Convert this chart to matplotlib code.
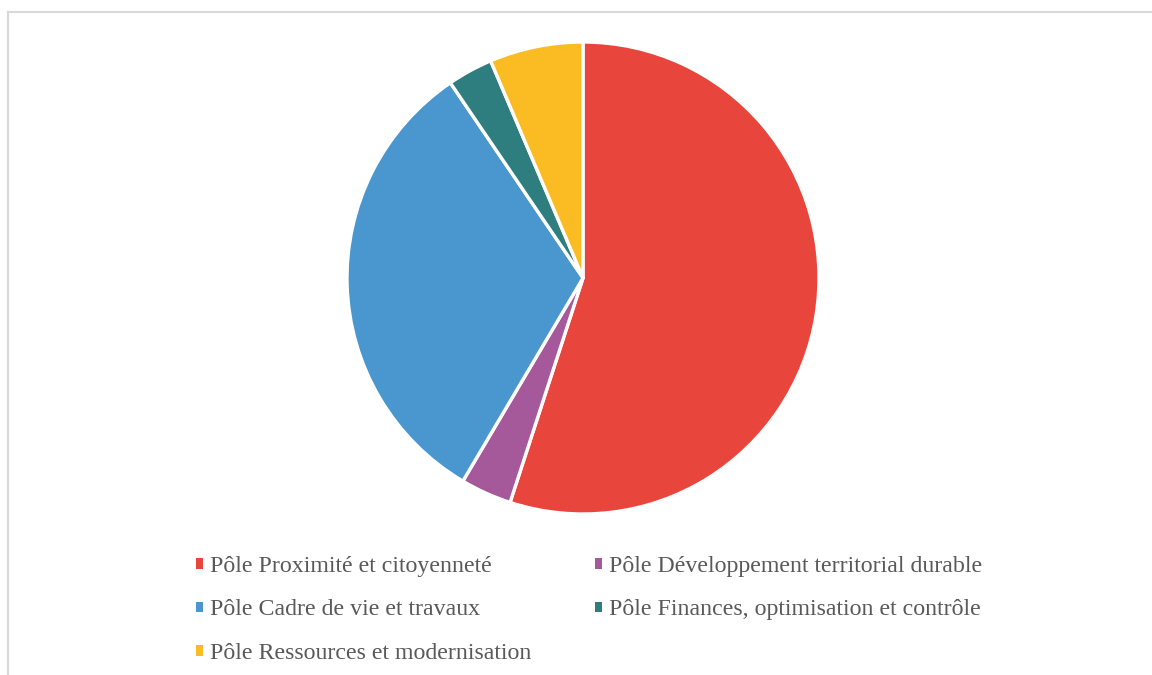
import matplotlib

matplotlib.use("Agg")
import matplotlib.pyplot as plt  # noqa: E402
from matplotlib.lines import Line2D  # noqa: E402
from matplotlib.patches import Patch  # noqa: E402

labels = [
    "Pôle Proximité et citoyenneté",
    "Pôle Développement territorial durable",
    "Pôle Cadre de vie et travaux",
    "Pôle Finances, optimisation et contrôle",
    "Pôle Ressources et modernisation",
]
shares = [55.0, 3.5, 32.0, 3.1, 6.4]
colors = ["#E8453C", "#A5589A", "#4A96CE", "#2E7D7F", "#FBBC23"]

W, H = 1152, 675
fig = plt.figure(figsize=(W / 100, H / 100), dpi=100)
plt.rcParams["font.family"] = ["Liberation Serif", "DejaVu Serif"]

# light grey chart frame (top and left edges visible)
fig.add_artist(Line2D([7.5 / W, 1], [1 - 11.5 / H] * 2, color="#D9D9D9", lw=1.5,
                      transform=fig.transFigure))
fig.add_artist(Line2D([7.5 / W] * 2, [0, 1 - 11.5 / H], color="#D9D9D9", lw=1.5,
                      transform=fig.transFigure))

cx, cy, r = 583, 278, 236
ax = fig.add_axes([(cx - r) / W, (H - cy - r) / H, 2 * r / W, 2 * r / H])
ax.pie(
    shares,
    colors=colors,
    startangle=90,
    counterclock=False,
    radius=1.0,
    wedgeprops=dict(edgecolor="white", linewidth=2.4),
)
ax.set_xlim(-1.0, 1.0)
ax.set_ylim(-1.0, 1.0)
ax.axis("off")

# legend is row-major in the reference; matplotlib fills columns first
order = [0, 2, 4, 1, 3]
handles = [Patch(facecolor=colors[i], edgecolor="none") for i in order]
fig.legend(
    handles,
    [labels[i] for i in order],
    ncol=2,
    loc="upper left",
    bbox_to_anchor=(196 / W, 1 - 556 / H),
    frameon=False,
    fontsize=17.2,
    labelcolor="#595959",
    handlelength=0.3,
    handleheight=0.3,
    handletextpad=0.3,
    columnspacing=2.65,
    labelspacing=0.94,
    borderaxespad=0,
    borderpad=0,
)

fig.savefig("out.png", dpi=100, facecolor="white")
